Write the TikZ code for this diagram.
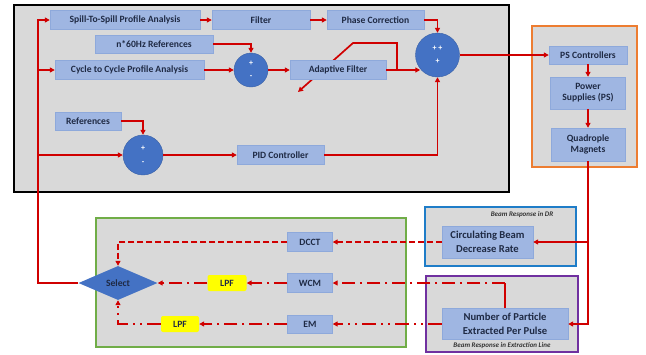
\documentclass[tikz,border=0pt]{standalone}
\usepackage{fontspec}
\setmainfont{Carlito}
\usetikzlibrary{arrows.meta,shapes.geometric}
\definecolor{bggray}{HTML}{D9D9D9}
\definecolor{boxfill}{HTML}{9FB6E2}
\definecolor{boxedge}{HTML}{8EA9DB}
\definecolor{circblue}{HTML}{4472C4}
\definecolor{linered}{HTML}{D00000}
\definecolor{txt}{HTML}{1F2A44}
\definecolor{cOrange}{HTML}{ED7D31}
\definecolor{cBlue}{HTML}{1F7DC8}
\definecolor{cPurple}{HTML}{7030A0}
\definecolor{cGreen}{HTML}{70AD47}
\definecolor{lpfyellow}{HTML}{FFFF00}
\begin{document}
\begin{tikzpicture}[x=1pt,y=-1pt,
  blk/.style={draw=boxedge, fill=boxfill, text=txt, font=\bfseries\fontsize{9.6}{11}\selectfont, inner sep=0pt, minimum height=19pt, align=center},
  bigblk/.style={blk, font=\bfseries\fontsize{10.6}{13.5}\selectfont},
  sumnode/.style={circle, fill=circblue, draw=circblue!85!black, inner sep=0pt, text=white, align=center, font=\bfseries\fontsize{8}{8}\selectfont},
  lpfbox/.style={fill=lpfyellow, rounded corners=2pt, text=txt, inner sep=0pt, minimum height=16pt, font=\bfseries\fontsize{9.6}{11}\selectfont},
  ln/.style={draw=linered, line width=1.7pt},
  arr/.style={ln, -{Triangle[length=5pt,width=5pt]}},
  dashdot/.style={dash pattern=on 13pt off 5pt on 2pt off 5pt},
  dashdotdot/.style={dash pattern=on 14pt off 5pt on 2pt off 5pt on 2pt off 5pt},
  frame/.style={line width=1.5pt, fill=bggray},
  tag/.style={font=\bfseries\itshape\fontsize{7}{8}\selectfont, text=black!80}
]
\useasboundingbox (0,0) rectangle (646,354);
% containers
\draw[frame, draw=black, line width=1.8pt] (14,5) rectangle (509,192);
\draw[frame, draw=cOrange] (532,26) rectangle (637,167);
\draw[frame, draw=cBlue] (425,207) rectangle (576,266);
\draw[frame, draw=cPurple] (426,276) rectangle (578,352);
\draw[frame, draw=cGreen] (96,218) rectangle (406,347);
\node[tag] (tagdr) at (522,215) {Beam Response in DR};
\node[tag] (tagel) at (502,345.5) {Beam Response in Extraction Line};
% adaptive arrow (behind the filter block)
\coordinate (ab) at (397,70);
\coordinate (abtop) at (397,43);
\coordinate (abl) at (353,43);
\coordinate (aend) at (298,92);
\draw[arr] (ab) -- (abtop) -- (abl) -- (aend);
% top box nodes
\node[blk, minimum width=150pt] (spill) at (125,20) {Spill-To-Spill Profile Analysis};
\node[blk, minimum width=98pt] (filter) at (261,20) {Filter};
\node[blk, minimum width=97pt] (phase) at (375.5,20) {Phase Correction};
\node[blk, minimum width=118pt, minimum height=18pt] (nref) at (154,44) {n*60Hz References};
\node[blk, minimum width=149pt] (cycle) at (129.5,70) {Cycle to Cycle Profile Analysis};
\node[sumnode, minimum size=34pt] (sum1) at (251,70) {+\\[5pt]-};
\node[blk, minimum width=96pt] (adapt) at (338,70) {Adaptive Filter};
\node[sumnode, minimum size=44pt] (sum2) at (437.5,55) {+ +\\[5pt]+};
\node[blk, minimum width=66pt, minimum height=18pt] (refs) at (88,121) {References};
\node[sumnode, minimum size=40pt] (sum3) at (143,155) {+\\[6pt]-};
\node[blk, minimum width=87pt] (pid) at (280.5,155) {PID Controller};
% orange box nodes
\node[blk, minimum width=78pt, minimum height=18pt] (psc) at (588,55) {PS Controllers};
\node[blk, minimum width=75pt, minimum height=32pt] (ps) at (588,93) {Power\\Supplies (PS)};
\node[blk, minimum width=74pt, minimum height=33pt] (qm) at (588,144.5) {Quadrople\\Magnets};
% beam response nodes
\node[bigblk, minimum width=91pt, minimum height=32pt] (cbd) at (487.5,242) {Circulating Beam\\Decrease Rate};
\node[bigblk, minimum width=126pt, minimum height=31pt] (npp) at (505,324) {Number of Particle\\Extracted Per Pulse};
% green box nodes
\node[blk, minimum width=45pt] (dcct) at (310,242) {DCCT};
\node[blk, minimum width=45pt] (wcm) at (310,283) {WCM};
\node[blk, minimum width=45pt, minimum height=18pt] (em) at (310,324) {EM};
\node[diamond, minimum width=79pt, minimum height=34pt, inner sep=0pt, fill=circblue, text=txt, font=\bfseries\fontsize{9.6}{11}\selectfont] (select) at (118,283) {Select};
\node[lpfbox, minimum width=39pt] (lpf1) at (227,283) {LPF};
\node[lpfbox, minimum width=38pt] (lpf2) at (180,324) {LPF};
% feedback line
\coordinate (fbtop) at (38,20);
\coordinate (fbbot) at (38,283);
\draw[arr] (select.west) -- (fbbot) -- (fbtop) -- (spill.west);
\draw[arr] (cycle.west -| fbtop) -- (cycle.west);
\draw[arr] (sum3.west -| fbtop) -- (sum3.west);
% top connectors
\draw[arr] (spill) -- (filter);
\draw[arr] (filter) -- (phase);
\draw[arr] (phase.east) -| (sum2.north);
\draw[arr] (nref.east) -| (sum1.north);
\draw[arr] (cycle) -- (sum1);
\draw[arr] (sum1) -- (adapt);
\draw[arr] (adapt.east) -- (adapt.east -| sum2.219);
\draw[arr] (refs.east) -| (sum3.north);
\draw[arr] (sum3) -- (pid);
\draw[arr] (pid.east) -| (sum2.south);
\draw[arr] (sum2.east) -- (psc.west);
\draw[arr] (psc) -- (ps);
\draw[arr] (ps) -- (qm);
% magnets to beam response
\coordinate (rj) at (588,324);
\draw[arr] (qm.south) -- (rj) -- (npp.east);
\draw[arr] (qm.south |- cbd.east) -- (cbd.east);
% detectors
\draw[arr, dash pattern=on 6pt off 3pt] (cbd.west) -- (dcct.east);
\draw[arr, dash pattern=on 6pt off 3pt] (dcct.west) -| (select.north);
\coordinate (wj) at (505,283);
\draw[ln] (npp.north) -- (wj);
\draw[arr, dashdot] (wj) -- (wcm.east);
\draw[arr, dashdot] (wcm.west) -- (lpf1.east);
\draw[arr, dashdot] (lpf1.west) -- (select.east);
\draw[arr, dashdotdot] (npp.west) -- (em.east);
\draw[arr, dashdot] (em.west) -- (lpf2.east);
\draw[arr, dashdotdot] (lpf2.west) -| (select.south);
\end{tikzpicture}
\end{document}
